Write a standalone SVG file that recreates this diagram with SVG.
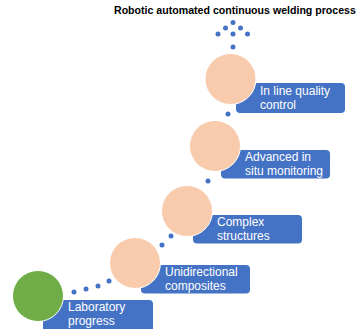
<svg xmlns="http://www.w3.org/2000/svg" width="360" height="329" viewBox="0 0 360 329">
<style>
.box{fill:#4472C4;}
.peach{fill:#F8CBAD;stroke:#FFFFFF;stroke-width:1;}
.green{fill:#70AD47;stroke:#FFFFFF;stroke-width:1;}
.lbl{font-family:"Liberation Sans",Arial,sans-serif;font-size:12px;fill:#FFFFFF;}
.title{font-family:"Liberation Sans",Arial,sans-serif;font-size:10.6px;font-weight:bold;fill:#000000;}
.dot{fill:#4472C4;}
</style>
<rect width="360" height="329" fill="#FFFFFF"/>
<text class="title" x="114" y="14">Robotic automated continuous welding process</text>
<g id="connectors">
<circle class="dot" cx="233" cy="22.5" r="2.5"/>
<circle class="dot" cx="225.5" cy="28" r="2.5"/>
<circle class="dot" cx="240.5" cy="28" r="2.5"/>
<circle class="dot" cx="218" cy="34" r="2.5"/>
<circle class="dot" cx="233" cy="34" r="2.5"/>
<circle class="dot" cx="247.5" cy="34" r="2.5"/>
<circle class="dot" cx="233" cy="47" r="2.5"/>
<circle class="dot" cx="228" cy="114" r="2.5"/>
<circle class="dot" cx="208" cy="181" r="2.5"/>
<circle class="dot" cx="171" cy="236" r="2.5"/>
<circle class="dot" cx="162" cy="245" r="2.5"/>
<circle class="dot" cx="109" cy="281" r="2.5"/>
<circle class="dot" cx="98" cy="286" r="2.5"/>
<circle class="dot" cx="86" cy="289" r="2.5"/>
<circle class="dot" cx="74" cy="292" r="2.5"/>
</g>
<g id="node-inline">
<rect class="box" x="236" y="83" width="109" height="30" rx="4"/>
<circle class="peach" cx="230.5" cy="79" r="25.5"/>
<text class="lbl" x="260" y="95">In line quality</text>
<text class="lbl" x="260" y="109">control</text>
</g>
<g id="node-advanced">
<rect class="box" x="221" y="150" width="109" height="28.5" rx="4"/>
<circle class="peach" cx="215" cy="146" r="25.5"/>
<text class="lbl" x="245" y="161">Advanced in</text>
<text class="lbl" x="245" y="174.5">situ monitoring</text>
</g>
<g id="node-complex">
<rect class="box" x="193" y="215" width="109" height="28.5" rx="4"/>
<circle class="peach" cx="187" cy="211" r="25.5"/>
<text class="lbl" x="217" y="226">Complex</text>
<text class="lbl" x="217" y="239.5">structures</text>
</g>
<g id="node-unidirectional">
<rect class="box" x="141" y="265" width="109" height="28.5" rx="4"/>
<circle class="peach" cx="135" cy="263" r="25.5"/>
<text class="lbl" x="165" y="276">Unidirectional</text>
<text class="lbl" x="165" y="289.5">composites</text>
</g>
<g id="node-laboratory">
<rect class="box" x="43" y="300" width="110" height="32" rx="4"/>
<circle class="green" cx="38" cy="296" r="25.5"/>
<text class="lbl" x="68" y="311">Laboratory</text>
<text class="lbl" x="68" y="324.5">progress</text>
</g>
</svg>
